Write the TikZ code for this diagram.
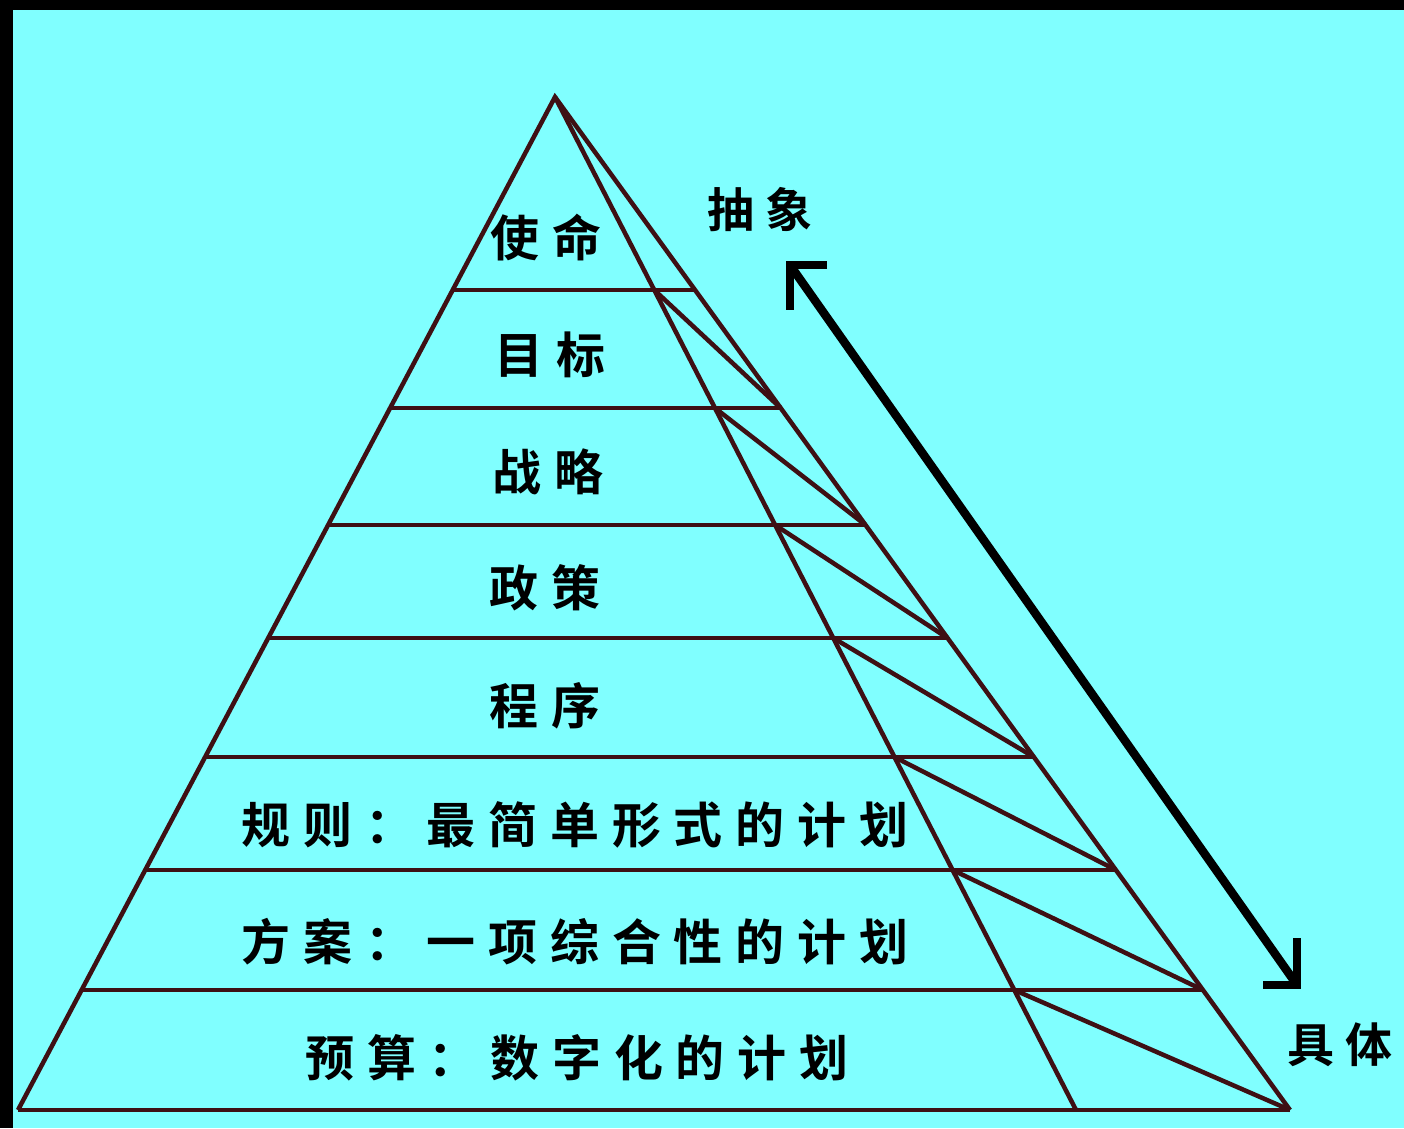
\documentclass[tikz,border=0pt]{standalone}
\usepackage{fontspec}
\usetikzlibrary{calc}
\newfontfamily\cjk[LetterSpace=26]{Noto Sans CJK SC Bold}
\newfontfamily\cjkside[LetterSpace=24]{Noto Sans CJK SC Bold}
\definecolor{bgcyan}{RGB}{128,255,255}
\definecolor{pyr}{RGB}{62,16,20}
\tikzset{
  pyrline/.style={draw=pyr,line width=4.5pt},
  lvl/.style={font=\cjk\fontsize{49pt}{49pt}\selectfont,text=black,inner sep=0pt,anchor=center},
  side/.style={font=\cjkside\fontsize{47pt}{47pt}\selectfont,text=black,inner sep=0pt,anchor=center},
  bigarrow/.style={draw=black,line width=8.5pt,line cap=butt,line join=miter}
}
\begin{document}
\begin{tikzpicture}[x=1pt,y=-1pt]
\useasboundingbox (0,0) rectangle (1404,1128);
\fill[bgcyan] (0,0) rectangle (1404,1128);
\fill[black] (0,0) rectangle (1404,10);
\fill[black] (0,0) rectangle (13,1128);
% pyramid key points
\coordinate (A) at (555,97);
\coordinate (L) at (18,1110);
\coordinate (R) at (1290,1110);
\coordinate (I) at (1076,1110);
\foreach \y [count=\k] in {290,408,525,638,757,870,990,1110}{
  \pgfmathsetmacro\t{(\y-97)/1013}
  \coordinate (l\k) at ($(A)!\t!(L)$);
  \coordinate (o\k) at ($(A)!\t!(R)$);
  \coordinate (i\k) at ($(A)!\t!(I)$);
}
% outline
\draw[pyrline] (L) -- (A) -- (R);
\draw[pyrline] (A) -- (I);
\foreach \k in {1,...,8}{
  \draw[pyrline] (l\k) -- (o\k);
}
\foreach \k [evaluate=\k as \n using int(\k+1)] in {1,...,7}{
  \draw[pyrline] (i\k) -- (o\n);
}
% level texts
\node[lvl] (t1) at (546,238) {使命};
\node[lvl] (t2) at (550,355) {目标};
\node[lvl] (t3) at (548,472) {战略};
\node[lvl] (t4) at (545,588) {政策};
\node[lvl] (t5) at (545,706) {程序};
\node[lvl] (t6) at (575,825) {规则：最简单形式的计划};
\node[lvl] (t7) at (575,942) {方案：一项综合性的计划};
\node[lvl] (t8) at (577,1058) {预算：数字化的计划};
% side labels
\node[side] (abs) at (760,210) {抽象};
\node[side] (con) at (1340,1045) {具体};
% double arrow
\coordinate (up) at (790,265);
\coordinate (dn) at (1297,985);
\coordinate (ua) at (827,265);
\coordinate (ub) at (790,310);
\coordinate (da) at (1297,938);
\coordinate (db) at (1263,985);
\draw[bigarrow] (up) -- (dn);
\draw[bigarrow] (ua) -- (up) -- (ub);
\draw[bigarrow] (da) -- (dn) -- (db);
\end{tikzpicture}
\end{document}
